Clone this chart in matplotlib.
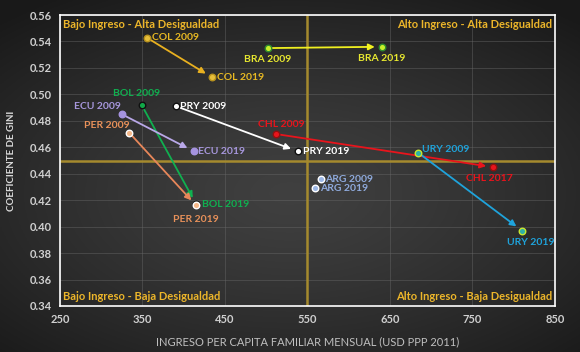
import numpy as np
import matplotlib.pyplot as plt

plt.rcParams['font.family'] = ['Lato', 'DejaVu Sans']

# datos
paises = ['COL', 'BRA', 'BOL', 'ECU', 'PER', 'PRY', 'CHL', 'URY', 'ARG']
anio_ini = [2009] * 9
anio_fin = [2019, 2019, 2019, 2019, 2019, 2019, 2017, 2019, 2019]
ingreso_ini = [355, 502, 349, 325, 334, 391, 512, 684, 566]
ingreso_fin = [434, 640, 415, 412, 415, 538, 775, 810, 559]
gini_ini = [0.543, 0.535, 0.492, 0.485, 0.471, 0.491, 0.470, 0.456, 0.436]
gini_fin = [0.513, 0.536, 0.417, 0.457, 0.416, 0.457, 0.445, 0.397, 0.429]
con_flecha = [True, True, True, True, True, True, True, True, False]

xticks = [250, 350, 450, 550, 650, 750, 850]
yticks = [0.34, 0.36, 0.38, 0.40, 0.42, 0.44, 0.46, 0.48, 0.50, 0.52, 0.54, 0.56]
corte_x = 550
corte_y = 0.45

# estilos por pais: color texto, color flecha, relleno marcador, borde marcador
estilo = {
    'COL': ('#E8B923', '#E8B020', '#E6BE3A', '#B8921E'),
    'BRA': ('#E8E830', '#F0F020', '#C8F02A', '#2E8B2E'),
    'BOL': ('#10B050', '#10B050', '#10A848', '#101010'),
    'ECU': ('#A797DD', '#B9A8E8', '#A593E0', '#A593E0'),
    'PER': ('#E8915A', '#E8875A', '#F5B889', '#FFFFFF'),
    'PRY': ('#FFFFFF', '#FFFFFF', '#FFFFFF', '#101010'),
    'CHL': ('#E8141C', '#E8141C', '#E8141C', '#901010'),
    'URY': ('#1FA3DB', '#1FA3DB', '#2EB0A8', '#C8E830'),
    'ARG': ('#8FAADC', '#8FAADC', '#9DB8E6', '#FFFFFF'),
}

# posicion de etiquetas (offset en puntos, ha, va)
pos_ini = {
    'COL': ((4, 0), 'left', 'center'), 'BRA': ((0, -5), 'center', 'top'),
    'BOL': ((-4, 5), 'center', 'bottom'), 'ECU': ((-1, 2), 'right', 'bottom'),
    'PER': ((0, 2), 'right', 'bottom'), 'PRY': ((3, 0), 'left', 'center'),
    'CHL': ((4, 4), 'center', 'bottom'), 'URY': ((3, 2), 'left', 'center'),
    'ARG': ((3, 0), 'left', 'center'),
}
pos_fin = {
    'COL': ((4, 0), 'left', 'center'), 'BRA': ((0, -5), 'center', 'top'),
    'BOL': ((4, 0), 'left', 'center'), 'ECU': ((3, 0), 'left', 'center'),
    'PER': ((0, -7), 'center', 'top'), 'PRY': ((4, 0), 'left', 'center'),
    'CHL': ((-3, -5), 'center', 'top'), 'URY': ((6, -5), 'center', 'top'),
    'ARG': ((4, 0), 'left', 'center'),
}

fig = plt.figure(figsize=(5.8, 3.52), dpi=100)

# fondo degradado oscuro
bg = fig.add_axes([0, 0, 1, 1], zorder=-10)
xx, yy = np.meshgrid(np.linspace(-1, 1, 300), np.linspace(-1, 1, 200))
r = np.clip(np.sqrt((xx * 0.95) ** 2 + ((yy + 0.1) * 1.05) ** 2) / 1.4, 0, 1)
gris = 0.25 - 0.15 * r ** 1.3
bg.imshow(np.dstack([gris, gris, gris]), aspect='auto', extent=[0, 1, 0, 1],
          origin='lower')
bg.axis('off')

ax = fig.add_axes([0.1034, 0.1307, 0.8534, 0.8266])
ax.set_facecolor('none')
ax.set_xlim(250, 850)
ax.set_ylim(0.34, 0.56)
ax.set_xticks(xticks)
ax.set_yticks(yticks)
ax.set_yticklabels([f'{v:.2f}' for v in yticks])
ax.grid(True, color='#6a6a6a', linewidth=0.6, alpha=0.5)
ax.set_axisbelow(True)
for s in ax.spines.values():
    s.set_color('white')
    s.set_linewidth(1.2)
ax.tick_params(length=0, colors='#D0D0D0', labelsize=8, pad=6)
for lab in ax.get_xticklabels() + ax.get_yticklabels():
    lab.set_fontweight('bold')

ax.axvline(corte_x, color='#A58A2E', linewidth=1.8, zorder=1)
ax.axhline(corte_y, color='#A58A2E', linewidth=1.8, zorder=1)

ax.set_xlabel('INGRESO PER CAPITA FAMILIAR MENSUAL (USD PPP 2011)',
              color='#BFBFBF', fontsize=8, labelpad=8)
ax.set_ylabel('COEFICIENTE DE GINI', color='#D9D9D9', fontsize=7,
              fontweight='bold', labelpad=10)

cuad = '#EDB62A'
kw = dict(color=cuad, fontsize=8, fontweight='bold', transform=ax.transAxes)
ax.text(0.006, 0.985, 'Bajo Ingreso - Alta Desigualdad', ha='left', va='top', **kw)
ax.text(0.994, 0.985, 'Alto Ingreso - Alta Desigualdad', ha='right', va='top', **kw)
ax.text(0.006, 0.015, 'Bajo Ingreso - Baja Desigualdad', ha='left', va='bottom', **kw)
ax.text(0.994, 0.015, 'Alto Ingreso - Baja Desigualdad', ha='right', va='bottom', **kw)

for i, p in enumerate(paises):
    ctxt, cflecha, cfill, cedge = estilo[p]
    if con_flecha[i]:
        ax.annotate('', xy=(ingreso_fin[i], gini_fin[i]),
                    xytext=(ingreso_ini[i], gini_ini[i]),
                    arrowprops=dict(arrowstyle='-|>', color=cflecha, lw=1.3,
                                    mutation_scale=9, shrinkA=3, shrinkB=5),
                    zorder=3)
    ax.scatter([ingreso_ini[i], ingreso_fin[i]], [gini_ini[i], gini_fin[i]],
               s=22, color=cfill, edgecolor=cedge, linewidth=1, zorder=4)
    for x, y, anio, pos in [(ingreso_ini[i], gini_ini[i], anio_ini[i], pos_ini[p]),
                            (ingreso_fin[i], gini_fin[i], anio_fin[i], pos_fin[p])]:
        off, ha, va = pos
        ax.annotate(f'{p} {anio}', (x, y), xytext=off, textcoords='offset points',
                    ha=ha, va=va, color=ctxt, fontsize=7.5, fontweight='bold',
                    zorder=5)

fig.savefig('out.png', dpi=100)
